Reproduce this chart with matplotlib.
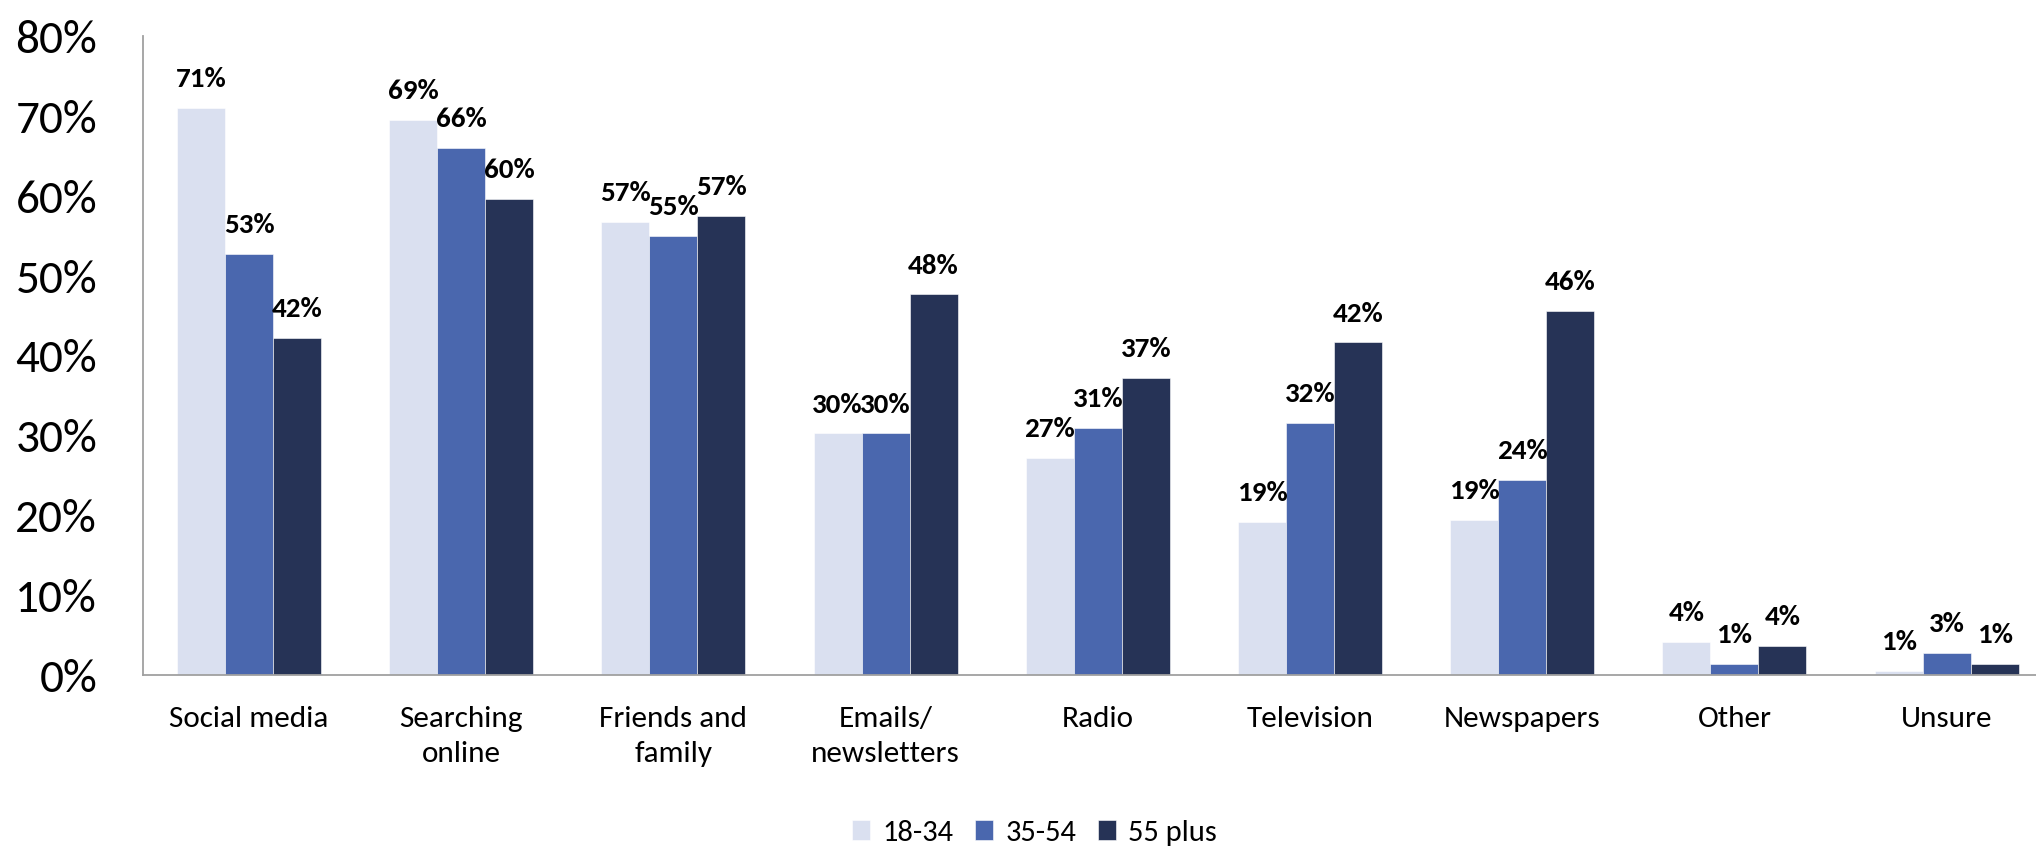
import numpy as np
import matplotlib
matplotlib.use('Agg')
import matplotlib.pyplot as plt
from matplotlib import font_manager
from matplotlib.ticker import FuncFormatter

# data
categories = ['Social media', 'Searching\nonline', 'Friends and\nfamily', 'Emails/\nnewsletters',
              'Radio', 'Television', 'Newspapers', 'Other', 'Unsure']
series_names = ['18-34', '35-54', '55 plus']
age_18_34 = [71.0, 69.5, 56.8, 30.3, 27.2, 19.2, 19.5, 4.2, 0.6]
age_35_54 = [52.8, 66.0, 55.0, 30.3, 31.0, 31.6, 24.5, 1.5, 2.8]
age_55_plus = [42.3, 59.7, 57.5, 47.7, 37.3, 41.7, 45.6, 3.7, 1.5]
labels_18_34 = ['71%', '69%', '57%', '30%', '27%', '19%', '19%', '4%', '1%']
labels_35_54 = ['53%', '66%', '55%', '30%', '31%', '32%', '24%', '1%', '3%']
labels_55_plus = ['42%', '60%', '57%', '48%', '37%', '42%', '46%', '4%', '1%']
colors = ['#DAE0F0', '#4A67AE', '#263356']

names = {f.name for f in font_manager.fontManager.ttflist}
font = 'Lato'
for cand in ['Carlito', 'Calibri', 'Lato']:
    if cand in names:
        font = cand
        break
plt.rcParams['font.family'] = [font, 'DejaVu Sans']

fig = plt.figure(figsize=(20.36, 8.47), dpi=100)
ax = fig.add_axes([0.0702, 0.2025, 0.938, 0.7545])

x = np.arange(len(categories))
w = 0.226
all_vals = [age_18_34, age_35_54, age_55_plus]
all_labels = [labels_18_34, labels_35_54, labels_55_plus]
for i, (vals, labs) in enumerate(zip(all_vals, all_labels)):
    pos = x + (i - 1) * w
    ax.bar(pos, np.array(vals) / 100, w, color=colors[i], label=series_names[i],
           edgecolor='white', linewidth=0.4)
    for px, v, t in zip(pos, vals, labs):
        ax.annotate(t, (px, v / 100), xytext=(0, 15), textcoords='offset points',
                    ha='center', va='baseline', fontsize=21, fontweight='bold')

ax.set_xlim(-0.5, len(categories) - 0.5)
ax.set_ylim(0, 0.8)
ax.set_yticks(np.arange(0, 0.81, 0.1))
ax.yaxis.set_major_formatter(FuncFormatter(lambda v, p: f'{v:.0%}'))
ax.tick_params(axis='y', length=0, pad=33, labelsize=34)
ax.set_xticks(x)
ax.set_xticklabels(categories, fontsize=22.5, linespacing=1.45)
ax.tick_params(axis='x', length=0, pad=22)

for s in ['top', 'right']:
    ax.spines[s].set_visible(False)
for s in ['left', 'bottom']:
    ax.spines[s].set_color('#A0A0A0')
    ax.spines[s].set_linewidth(1.3)

fig.legend(loc='center', bbox_to_anchor=(0.508, 0.017), ncol=3, frameon=False,
           fontsize=22, handlelength=0.6, handleheight=0.6, handletextpad=0.4,
           columnspacing=0.7)

fig.savefig('out.png', dpi=100)
